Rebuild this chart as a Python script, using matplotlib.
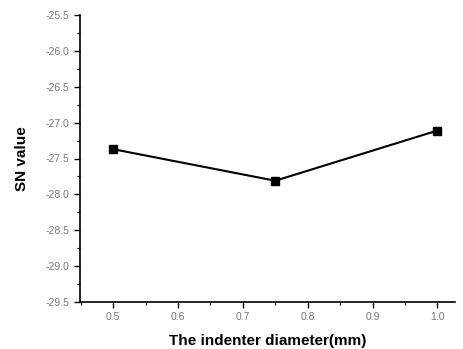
#!/usr/bin/env python3
from matplotlib import pyplot as plt
from matplotlib.ticker import MultipleLocator, FormatStrFormatter

# data
diameter = [0.5, 0.75, 1.0]
sn_value = [-27.37, -27.81, -27.11]

plt.rcParams['font.family'] = ['Liberation Sans', 'DejaVu Sans']

fig = plt.figure(figsize=(4.63, 3.49), dpi=100)
ax = fig.add_axes([80/463, 1 - 302/349, 375/463, 287/349])

ax.plot(diameter, sn_value, color='black', linewidth=1.5,
        marker='s', markersize=5.5, markerfacecolor='black')

ax.set_xlim(0.449, 1.027)
ax.set_ylim(-29.5, -25.5)
ax.xaxis.set_major_locator(MultipleLocator(0.1))
ax.xaxis.set_minor_locator(MultipleLocator(0.05))
ax.yaxis.set_major_locator(MultipleLocator(0.5))
ax.yaxis.set_minor_locator(MultipleLocator(0.25))
ax.xaxis.set_major_formatter(FormatStrFormatter('%.1f'))
ax.yaxis.set_major_formatter(FormatStrFormatter('%.1f'))

for s in ['top', 'right']:
    ax.spines[s].set_visible(False)
for s in ['left', 'bottom']:
    ax.spines[s].set_linewidth(1.2)

ax.tick_params(which='major', direction='out', length=4, width=1,
               labelsize=7.5, labelcolor='#777777')
ax.tick_params(which='minor', direction='out', length=2.5, width=0.8)

ax.set_xlabel('The indenter diameter(mm)', fontsize=11, fontweight='bold', labelpad=8)
ax.set_ylabel('SN value', fontsize=11, fontweight='bold', labelpad=12)

fig.savefig('out.png', dpi=100)
